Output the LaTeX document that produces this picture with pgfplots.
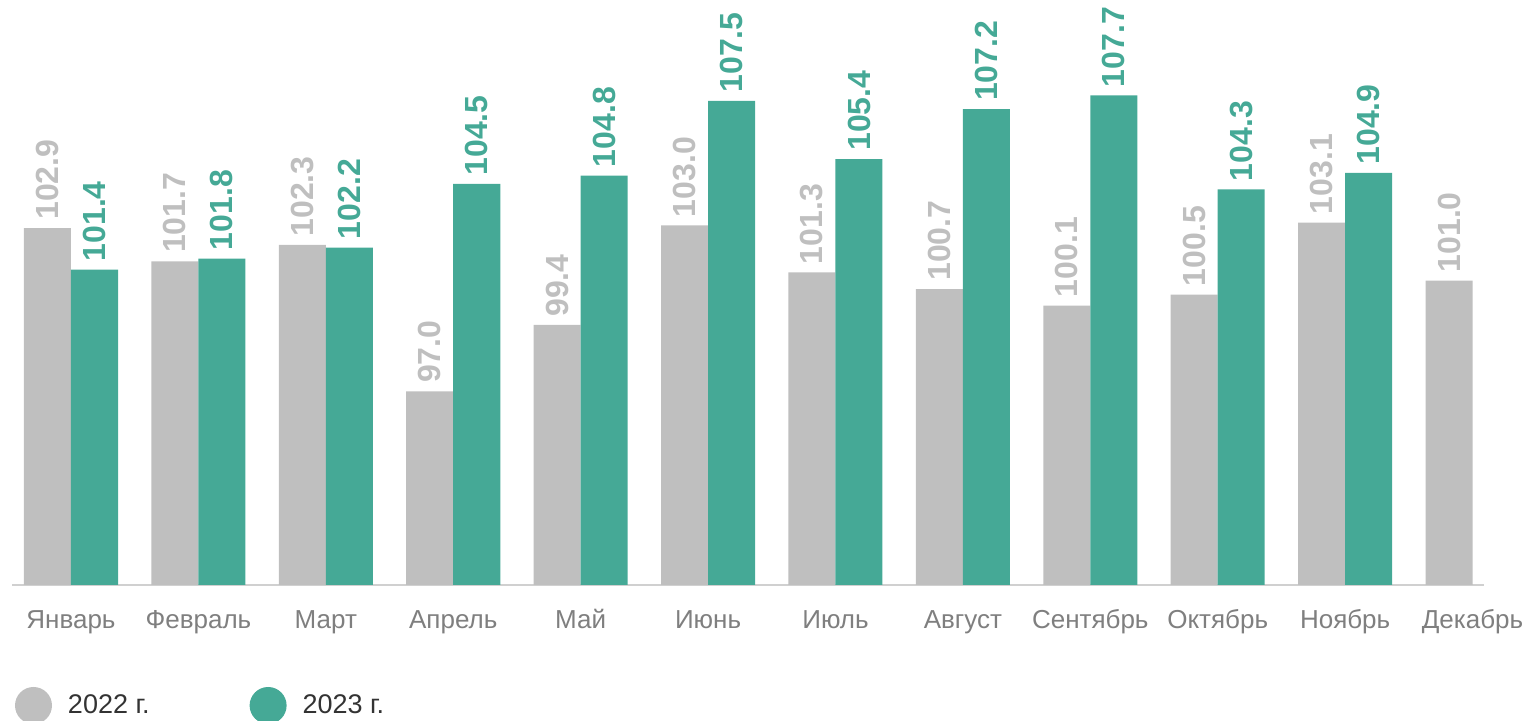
\documentclass[border=0pt]{standalone}
\usepackage{pgfplots}
\pgfplotsset{compat=1.18}
\usepackage{fontspec}
\setmainfont{Liberation Sans}
\definecolor{gbar}{HTML}{BFBFBF}
\definecolor{tbar}{HTML}{45A996}
\definecolor{axgray}{HTML}{D0D0D0}
\definecolor{ticktext}{HTML}{7F7F7F}
\definecolor{legtext}{HTML}{333333}
\begin{document}
\begin{tikzpicture}
\path[use as bounding box] (-6pt,-68pt) rectangle (757.5pt,292.5pt);
\begin{axis}[
  scale only axis, width=736pt, height=292.5pt,
  xmin=-0.463, xmax=11.09, ymin=90, ymax=111.15,
  ybar, bar width=0.369,
  axis x line=bottom, axis y line=none,
  x axis line style={-, draw=axgray, line width=1pt},
  xtick={0,...,11},
  xticklabels={Январь,Февраль,Март,Апрель,Май,Июнь,Июль,Август,Сентябрь,Октябрь,Ноябрь,Декабрь},
  major tick length=0pt,
  xtick style={draw=none},
  xticklabel style={font=\fontsize{13}{15}\selectfont, text=ticktext, inner sep=0pt, text height=9.3pt, text depth=2.7pt, anchor=north, yshift=-12.5pt},
  ytick=\empty,
  /pgf/number format/assume math mode=true,
  point meta=y,
  nodes near coords={\pgfmathprintnumber[fixed,fixed zerofill,precision=1]{\pgfplotspointmeta}},
  every node near coord/.append style={font=\fontsize{16}{19}\selectfont\bfseries, rotate=90, anchor=west, inner xsep=4pt, inner ysep=0pt},
  clip=false,
  legend image code/.code={\fill[#1] (9.25pt,0pt) circle (9.25pt);},
  legend style={legend columns=2, draw=none, fill=none, inner sep=0pt, outer sep=0pt,
    nodes={inner sep=0pt}, cells={anchor=center},
    font=\fontsize{13.5}{16}\selectfont, text=legtext,
    /tikz/every odd column/.append style={column sep=8pt},
    /tikz/every even column/.append style={column sep=50pt},
    at={(axis description cs:0,0)}, anchor=west, xshift=1.5pt, yshift=-60.25pt},
]
\addplot[fill=gbar, draw=none, bar shift=-0.1845, every node near coord/.append style={text=gbar}] coordinates {
(0,102.9) (1,101.7) (2,102.3) (3,97.0) (4,99.4) (5,103.0) (6,101.3) (7,100.7) (8,100.1) (9,100.5) (10,103.1) (11,101.0)};
\addlegendentry{2022 г.}
\addplot[fill=tbar, draw=none, bar shift=0.1845, every node near coord/.append style={text=tbar}] coordinates {
(0,101.4) (1,101.8) (2,102.2) (3,104.5) (4,104.8) (5,107.5) (6,105.4) (7,107.2) (8,107.7) (9,104.3) (10,104.9)};
\addlegendentry{2023 г.}
\end{axis}
\end{tikzpicture}
\end{document}
